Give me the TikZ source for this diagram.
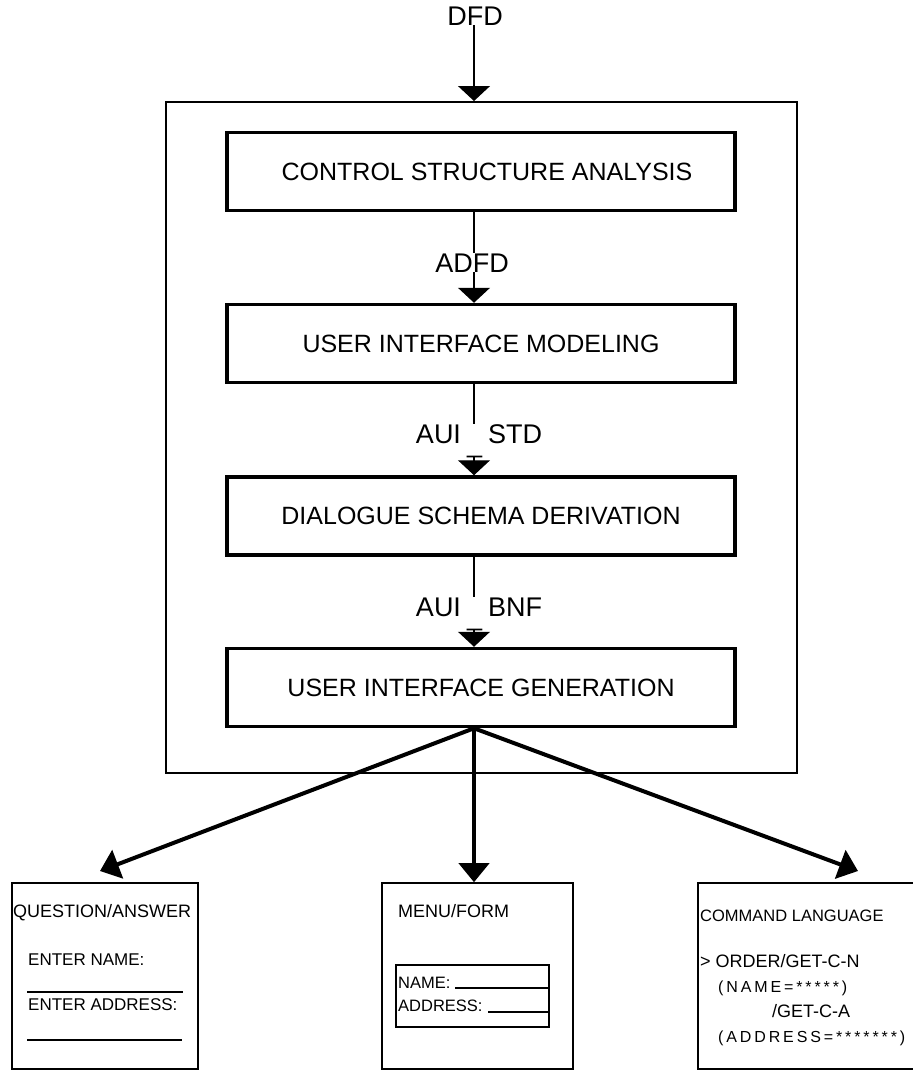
\documentclass[tikz,border=0pt]{standalone}
\usepackage{fontspec}
\setmainfont{Liberation Sans}
\usetikzlibrary{arrows.meta}
\begin{document}
\begin{tikzpicture}[x=1pt,y=-1pt,
  outerbox/.style={draw, line width=2pt, inner sep=0pt},
  proc/.style={draw, line width=3.5pt, minimum width=508pt, minimum height=78pt, inner sep=0pt, font=\fontsize{25}{28}\selectfont},
  lab/.style={fill=white, inner sep=0pt, anchor=base, font=\fontsize{27}{30}\selectfont},
  flow/.style={line width=1.2pt, -{Triangle[width=32pt,length=15pt]}},
  outflow/.style={line width=4pt, -{Triangle[width=30pt,length=19pt]}},
  sbox/.style={draw, line width=1.6pt, inner sep=0pt},
  small/.style={inner sep=0pt, anchor=base west, font=\fontsize{17}{20}\selectfont},
  blank/.style={line width=1.4pt}
]
\useasboundingbox (0,0) rectangle (913,1071);

% outer frame
\node[outerbox, minimum width=631pt, minimum height=671pt] (outer) at (481.5,437.5) {};

% process boxes
\node[proc] (b1) at (481,171.5) {\hspace{12pt}CONTROL STRUCTURE ANALYSIS};
\node[proc] (b2) at (481,343.5) {USER INTERFACE MODELING};
\node[proc] (b3) at (481,516) {DIALOGUE SCHEMA DERIVATION};
\node[proc] (b4) at (481,687.5) {USER INTERFACE GENERATION};

\coordinate (ax) at (474,0);

% top input
\node[inner sep=0pt, font=\fontsize{27}{30}\selectfont] (dfd) at (475,16) {DFD};
\draw[flow] (dfd.south -| ax) -- (outer.north -| ax);

% internal flows
\draw[flow] (b1.south -| ax) -- (b2.north -| ax);
\draw[flow] (b2.south -| ax) -- (b3.north -| ax);
\draw[flow] (b3.south -| ax) -- (b4.north -| ax);

\node[lab] (l1) at (472,272) {ADFD};
\node[lab] (l2) at (479,443) {AUI\hspace{6pt}\raisebox{-9pt}{\_}\hspace{6pt}STD};
\node[lab] (l3) at (479,616) {AUI\hspace{6pt}\raisebox{-9pt}{\_}\hspace{6pt}BNF};

% output boxes
\node[sbox, minimum width=186pt, minimum height=186pt] (qa) at (105,976) {};
\node[sbox, minimum width=191pt, minimum height=186pt] (menu) at (477.5,976) {};
\node[sbox, minimum width=217pt, minimum height=186pt] (cmd) at (806.5,976) {};

\coordinate (qtip) at (100,871);
\coordinate (ctip) at (858,871);

\draw[outflow] (b4.south -| ax) -- (qtip);
\draw[outflow] (b4.south -| ax) -- (menu.north -| ax);
\draw[outflow] (b4.south -| ax) -- (ctip);

% question/answer box content
\node[small, font=\fontsize{18}{20}\selectfont] (qat) at (13,917) {QUESTION/ANSWER};
\node[small] (qan) at (28,965) {ENTER NAME:};
\draw[blank] (27,992) -- (183,992);
\node[small] (qaa) at (28,1010) {ENTER ADDRESS:};
\draw[blank] (27,1040) -- (182,1040);

% menu/form box content
\node[small, font=\fontsize{18}{20}\selectfont] (mt) at (398,917) {MENU/FORM};
\node[sbox, minimum width=153pt, minimum height=62pt] (form) at (472.5,996) {};
\node[small, font=\fontsize{16.5}{18}\selectfont] (fn) at (398,988) {NAME:};
\draw[blank] (455,988) -- (form.east |- 0,988);
\node[small, font=\fontsize{16.5}{18}\selectfont] (fa) at (398,1011) {ADDRESS:};
\draw[blank] (488,1012) -- (form.east |- 0,1012);

% command language box content
\node[small, font=\fontsize{16.5}{20}\selectfont] (ct) at (700,921) {COMMAND LANGUAGE};
\node[small, font=\fontsize{18}{20}\selectfont] (c1) at (700,967) {> ORDER/GET-C-N};
\node[small, font=\fontsize{16}{18}\selectfont\addfontfeature{LetterSpace=18}] (c2) at (718,992) {(NAME=*****)};
\node[small, font=\fontsize{18}{20}\selectfont] (c3) at (772,1017) {/GET-C-A};
\node[small, font=\fontsize{16}{18}\selectfont\addfontfeature{LetterSpace=18}] (c4) at (718,1042) {(ADDRESS=*******)};
\end{tikzpicture}
\end{document}
